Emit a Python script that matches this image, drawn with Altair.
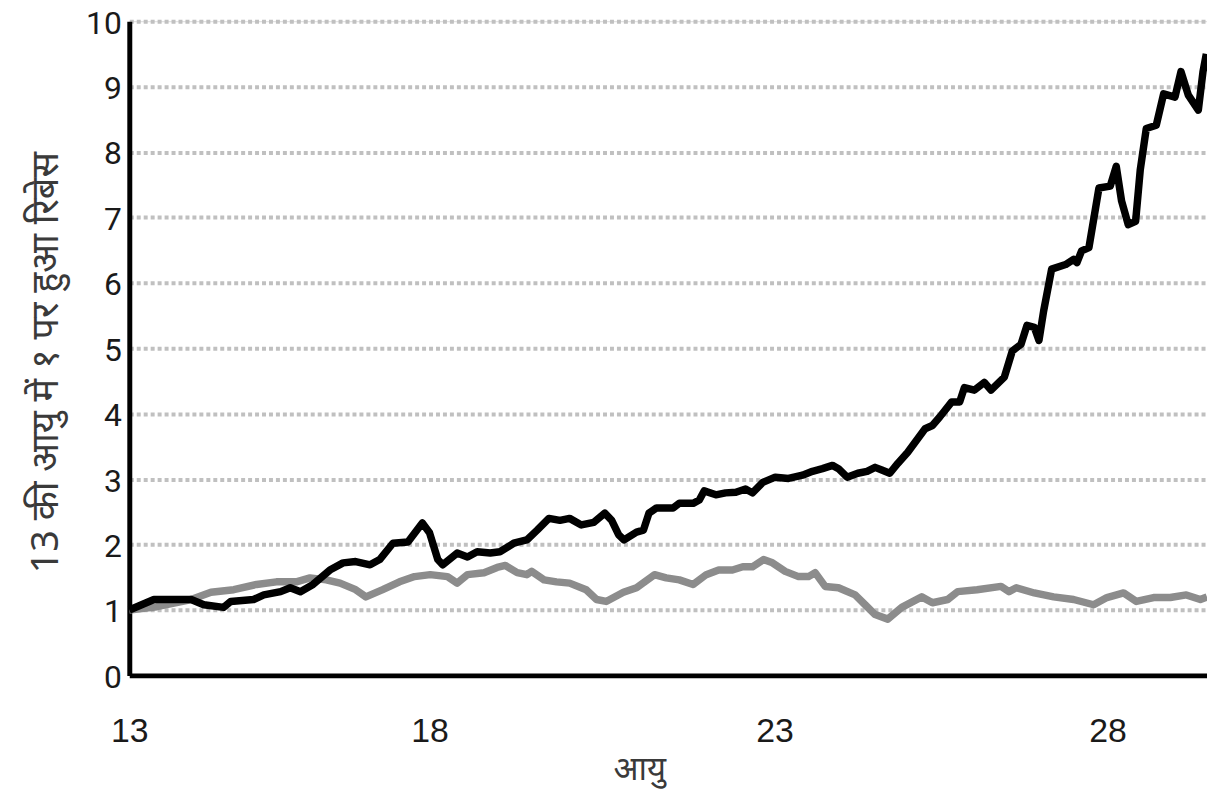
import altair as alt
import pandas as pd

# Age ticks shown on the x axis
x_ticks = [13, 18, 23, 28]
y_ticks = [0, 1, 2, 3, 4, 5, 6, 7, 8, 9, 10]

# Black series (age, value)
black_age = [13.00, 13.41, 13.79, 14.03, 14.24, 14.57, 14.69, 15.07, 15.24, 15.52,
             15.68, 15.85, 16.06, 16.34, 16.56, 16.77, 17.01, 17.17, 17.39, 17.64,
             17.88, 18.00, 18.12, 18.19, 18.40, 18.55, 18.69, 18.88, 19.02, 19.22,
             19.41, 19.56, 19.73, 19.89, 20.03, 20.20, 20.38, 20.54, 20.64, 20.74,
             20.82, 21.00, 21.10, 21.18, 21.29, 21.53, 21.62, 21.82, 21.91, 21.98,
             22.15, 22.29, 22.44, 22.58, 22.68, 22.83, 23.01, 23.21, 23.42, 23.57,
             23.72, 23.87, 23.96, 24.09, 24.25, 24.39, 24.51, 24.61, 24.73, 24.85,
             25.00, 25.26, 25.37, 25.48, 25.66, 25.78, 25.85, 26.00, 26.15, 26.25,
             26.45, 26.57, 26.70, 26.79, 26.90, 26.97, 27.04, 27.16, 27.37, 27.49,
             27.54, 27.61, 27.72, 27.87, 28.04, 28.13, 28.21, 28.31, 28.42, 28.49,
             28.58, 28.73, 28.84, 29.01, 29.10, 29.21, 29.36, 29.43, 29.48]
black_val = [1.00, 1.16, 1.16, 1.16, 1.08, 1.04, 1.13, 1.16, 1.23, 1.28,
             1.34, 1.28, 1.39, 1.61, 1.72, 1.74, 1.69, 1.77, 2.02, 2.04,
             2.33, 2.18, 1.77, 1.69, 1.87, 1.81, 1.89, 1.87, 1.89, 2.02,
             2.07, 2.22, 2.40, 2.37, 2.40, 2.30, 2.34, 2.48, 2.37, 2.15,
             2.07, 2.19, 2.22, 2.48, 2.56, 2.56, 2.63, 2.63, 2.68, 2.82,
             2.76, 2.79, 2.80, 2.85, 2.79, 2.95, 3.03, 3.01, 3.06, 3.12,
             3.16, 3.21, 3.16, 3.03, 3.09, 3.12, 3.18, 3.14, 3.09, 3.24,
             3.41, 3.77, 3.82, 3.95, 4.18, 4.18, 4.40, 4.36, 4.48, 4.36,
             4.56, 4.96, 5.06, 5.35, 5.32, 5.12, 5.57, 6.21, 6.28, 6.36,
             6.31, 6.49, 6.54, 7.45, 7.48, 7.78, 7.25, 6.89, 6.94, 7.73,
             8.36, 8.41, 8.89, 8.84, 9.23, 8.87, 8.64, 9.23, 9.50]

# Gray series (age, value)
gray_age = [13.00, 13.46, 14.03, 14.36, 14.74, 15.12, 15.45, 15.78, 16.01, 16.28,
            16.51, 16.77, 16.94, 17.22, 17.50, 17.75, 18.01, 18.26, 18.40, 18.55,
            18.79, 18.98, 19.10, 19.27, 19.41, 19.48, 19.66, 19.84, 20.03, 20.27,
            20.42, 20.56, 20.81, 21.00, 21.26, 21.43, 21.62, 21.82, 22.01, 22.19,
            22.39, 22.54, 22.68, 22.84, 22.97, 23.16, 23.36, 23.51, 23.61, 23.76,
            23.96, 24.21, 24.36, 24.51, 24.70, 24.91, 25.21, 25.37, 25.60, 25.75,
            26.04, 26.40, 26.52, 26.63, 26.90, 27.19, 27.49, 27.79, 27.99, 28.24,
            28.43, 28.69, 28.94, 29.18, 29.39, 29.49]
gray_val = [1.00, 1.05, 1.16, 1.27, 1.31, 1.39, 1.43, 1.43, 1.49, 1.46,
            1.41, 1.31, 1.20, 1.31, 1.43, 1.51, 1.54, 1.51, 1.41, 1.54,
            1.57, 1.65, 1.68, 1.57, 1.54, 1.59, 1.46, 1.43, 1.41, 1.31,
            1.16, 1.13, 1.27, 1.34, 1.54, 1.49, 1.46, 1.39, 1.54, 1.61,
            1.61, 1.66, 1.66, 1.77, 1.72, 1.59, 1.51, 1.51, 1.57, 1.36,
            1.34, 1.23, 1.08, 0.93, 0.86, 1.04, 1.20, 1.11, 1.16, 1.28,
            1.31, 1.36, 1.28, 1.34, 1.26, 1.20, 1.16, 1.08, 1.19, 1.26,
            1.13, 1.19, 1.19, 1.23, 1.16, 1.20]

series_names = ["gray", "black"]
series_colors = ["#8c8c8c", "#000000"]

rows = []
for i, (a, v) in enumerate(zip(gray_age, gray_val)):
    rows.append({"age": a, "value": v, "series": "gray", "order": i})
for i, (a, v) in enumerate(zip(black_age, black_val)):
    rows.append({"age": a, "value": v, "series": "black", "order": i})
df = pd.DataFrame(rows)

W, H = 1084, 658

x_scale = alt.Scale(domain=[13, 18, 23, 28, 29.49],
                    range=[0, 302, 649, 984, 1084], nice=False, zero=False)
y_scale = alt.Scale(domain=[0, 10], nice=False, zero=True)

x_enc = alt.X("age:Q", scale=x_scale,
              axis=alt.Axis(values=x_ticks, title="आयु", grid=False, ticks=False,
                            domainColor="#000000", domainWidth=5,
                            labelFont="Liberation Sans",
                            labelFontSize=34,
                            labelColor="#1a1a1a", labelPadding=40,
                            labelFlush=False,
                            titleFont="Noto Sans", titleFontSize=33,
                            titleFontWeight="normal", titleColor="#3a3a3a",
                            titleX=513, titlePadding=5))
y_enc = alt.Y("value:Q", scale=y_scale,
              axis=alt.Axis(values=y_ticks, title="13 की आयु में १ पर हुआ रिबेस",
                            grid=True, gridColor="#c0c0c0", gridWidth=4,
                            gridDash=[4, 3], ticks=False,
                            domainColor="#000000", domainWidth=5,
                            labelFont="Roboto", labelFontSize=32,
                            labelColor="#1a1a1a", labelPadding=8,
                            labelOffset=2,
                            titleFont="Noto Sans", titleFontSize=38,
                            titleFontWeight="normal", titleColor="#3a3a3a",
                            titleY=343, titlePadding=20))

lines = alt.Chart(df).mark_line(strokeWidth=7.5, strokeJoin="round").encode(
    x=x_enc,
    y=y_enc,
    color=alt.Color("series:N", scale=alt.Scale(domain=series_names, range=series_colors),
                    legend=None),
    order="order:Q",
    detail="series:N",
)

chart = lines.properties(
    width=W, height=H,
    autosize=alt.AutoSizeParams(type="none"),
    padding={"left": 122, "top": 11, "right": 0, "bottom": 112},
).configure_view(stroke=None).configure(background="white")

chart.save("out.html", embed_options={"renderer": "svg", "actions": False})
